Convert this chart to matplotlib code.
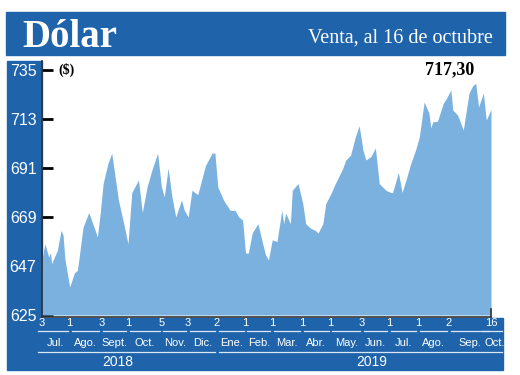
import matplotlib
matplotlib.use("Agg")
import matplotlib.pyplot as plt
import matplotlib.dates as mdates
import matplotlib.transforms as mtransforms
from matplotlib import font_manager
from matplotlib.patches import Rectangle
from matplotlib.lines import Line2D
import pandas as pd

# dollar sale price
dates = ["2018-07-03", "2018-07-06", "2018-07-10", "2018-07-12", "2018-07-13", "2018-07-19",
         "2018-07-23", "2018-07-25", "2018-07-27", "2018-08-01", "2018-08-06", "2018-08-09",
         "2018-08-10", "2018-08-15", "2018-08-21", "2018-08-26", "2018-08-30", "2018-09-02",
         "2018-09-05", "2018-09-10", "2018-09-14", "2018-09-18", "2018-09-21", "2018-09-25",
         "2018-10-01", "2018-10-05", "2018-10-12", "2018-10-16", "2018-10-21", "2018-10-26",
         "2018-11-01", "2018-11-05", "2018-11-08", "2018-11-12", "2018-11-16", "2018-11-20",
         "2018-11-26", "2018-11-29", "2018-12-03", "2018-12-07", "2018-12-13", "2018-12-18",
         "2018-12-21", "2018-12-28", "2018-12-31", "2019-01-03", "2019-01-09", "2019-01-16",
         "2019-01-21", "2019-01-25", "2019-01-29", "2019-02-01", "2019-02-04", "2019-02-08",
         "2019-02-14", "2019-02-19", "2019-02-22", "2019-02-25", "2019-03-01", "2019-03-06",
         "2019-03-11", "2019-03-13", "2019-03-15", "2019-03-20", "2019-03-22", "2019-03-28",
         "2019-04-02", "2019-04-05", "2019-04-10", "2019-04-15", "2019-04-18", "2019-04-23",
         "2019-04-26", "2019-05-02", "2019-05-06", "2019-05-13", "2019-05-17", "2019-05-22",
         "2019-05-27", "2019-05-31", "2019-06-04", "2019-06-07", "2019-06-12", "2019-06-17",
         "2019-06-21", "2019-06-28", "2019-07-03", "2019-07-05", "2019-07-11", "2019-07-15",
         "2019-07-19", "2019-07-24", "2019-07-29", "2019-08-02", "2019-08-07", "2019-08-12",
         "2019-08-14", "2019-08-16", "2019-08-21", "2019-08-27", "2019-08-30", "2019-09-04",
         "2019-09-06", "2019-09-11", "2019-09-17", "2019-09-23", "2019-09-27", "2019-09-30",
         "2019-10-03", "2019-10-08", "2019-10-11", "2019-10-16"]
values = [650, 657, 651, 653, 648, 654,
          663, 661, 650, 637.6, 644, 645,
          648, 664.5, 671, 665, 660, 671,
          684, 693, 697.7, 685.6, 676.6, 669,
          657, 680, 685.6, 671, 682.5, 690,
          697.7, 682.5, 678, 691, 678, 669,
          676.6, 672, 669, 681, 679, 687,
          692, 697.7, 697.7, 682.5, 676.6, 672,
          672, 669, 667.6, 652.8, 652.8, 661.8,
          666, 657, 652, 649.7, 658.7, 658,
          672, 666, 670.8, 666, 681, 684,
          675, 666, 664, 663, 661.8, 666,
          675, 680, 684, 690, 694.6, 696.8,
          705, 710, 699, 694.6, 696, 700,
          684, 681, 680, 680, 689, 680,
          685.6, 693, 699, 705, 720.6, 715.7,
          709, 711.7, 712, 720, 722, 726,
          717, 714.8, 708, 724.7, 728, 729,
          718.4, 724.7, 712.5, 717.3]

tick_dates = ["2018-07-03", "2018-08-01", "2018-09-03", "2018-10-01", "2018-11-05", "2018-12-03",
              "2019-01-02", "2019-02-01", "2019-03-01", "2019-04-01", "2019-05-01", "2019-06-03",
              "2019-07-01", "2019-08-01", "2019-09-02", "2019-10-16"]
tick_labels = ["3", "1", "3", "1", "5", "3", "2", "1", "1", "1", "1", "3", "1", "1", "2", "16"]
months = ["Jul.", "Ago.", "Sept.", "Oct.", "Nov.", "Dic.", "Ene.", "Feb.", "Mar.", "Abr.",
          "May.", "Jun.", "Jul.", "Ago.", "Sep.", "Oct."]
years = ["2018", "2019"]
y_ticks = [625, 647, 669, 691, 713, 735]

W, H = 520, 375
BLUE = "#1f64ab"
AREA = "#7ab1de"
serif = ["Liberation Serif", "DejaVu Serif"]


def has_font(name):
    try:
        font_manager.findfont(name, fallback_to_default=False)
        return True
    except ValueError:
        return False


narrow = "Liberation Sans Narrow" if has_font("Liberation Sans Narrow") else "Liberation Sans"
small = 9 if narrow == "Liberation Sans Narrow" else 8


def fx(x):
    return x / W


def fy(y):
    return 1 - y / H


fig = plt.figure(figsize=(W / 100, H / 100), dpi=100)
fig.patch.set_facecolor("white")

# blue bands (behind the axes)
fig.patches.append(Rectangle((fx(6), fy(55)), fx(505) - fx(6), fy(12) - fy(55),
                             transform=fig.transFigure, color=BLUE, zorder=-1))
fig.patches.append(Rectangle((fx(7), fy(318)), fx(42) - fx(7), fy(61) - fy(318),
                             transform=fig.transFigure, color=BLUE, zorder=-1))
fig.patches.append(Rectangle((fx(7), fy(370)), fx(503) - fx(7), fy(318) - fy(370),
                             transform=fig.transFigure, color=BLUE, zorder=-1))

fig.text(fx(22), fy(47), "Dólar", family=serif, weight="bold", size=28,
         color="white", va="baseline", ha="left")
fig.text(fx(493), fy(43), "Venta, al 16 de octubre", family=serif, size=14.5,
         color="white", va="baseline", ha="right")

ax = fig.add_axes([fx(42), fy(315), fx(491) - fx(42), fy(70) - fy(315)])
ax.set_facecolor("none")
ax.set_axisbelow(True)

x = pd.to_datetime(dates)
ax.fill_between(x, values, 625, color=AREA, linewidth=0, zorder=1)
ax.set_xlim(pd.Timestamp(tick_dates[0]), pd.Timestamp(tick_dates[-1]))
ax.set_ylim(625, 735)
for s in ax.spines.values():
    s.set_visible(False)
ax.set_yticks(y_ticks)
ax.set_yticklabels([str(v) for v in y_ticks], family=narrow, fontsize=11.5, color="white")
ax.tick_params(axis="y", direction="in", length=8, width=2, color="black", pad=4)
ax.set_xticks([])

# axis lines
fig.add_artist(Line2D([fx(42), fx(42)], [fy(61), fy(317)], color="#333333", lw=1.2))
fig.add_artist(Line2D([fx(42), fx(491)], [fy(316.5), fy(316.5)], color="#333333", lw=1.2))
fig.add_artist(Line2D([fx(491), fx(491)], [fy(309), fy(317)], color="#333333", lw=1.2))

fig.text(fx(58), fy(70), "($)", family=serif, weight="bold", size=10, va="center", ha="left")
fig.text(fx(450), fy(70), "717,30", family=serif, weight="bold", size=13,
         va="center", ha="center")

# bottom date scale
trans = mtransforms.blended_transform_factory(ax.transData, fig.transFigure)
tnum = [mdates.date2num(pd.Timestamp(d)) for d in tick_dates]
for t, lab in zip(tnum, tick_labels):
    fig.text(t, fy(323), lab, transform=trans, family=narrow, size=small, color="white",
             ha="center", va="center")
mid = [(a + b) / 2 for a, b in zip(tnum[:-1], tnum[1:])] + [tnum[-1] + 4]
for m, lab in zip(mid, months):
    fig.text(m, fy(343), lab, transform=trans, family=narrow, size=small, color="white",
             ha="center", va="center")
seg = [(a + 2, b - 2) for a, b in zip(tnum[:-1], tnum[1:])] + [(tnum[-1] - 9, tnum[-1] + 11)]
seg[0] = (tnum[0] - 4, seg[0][1])
for a, b in seg:
    fig.add_artist(Line2D([a, b], [fy(331), fy(331)], transform=trans, color="#d8e6f5", lw=0.9))
ylines = [(tnum[0] - 4, mdates.date2num(pd.Timestamp("2018-12-31"))),
          (tnum[6] + 2, tnum[-1] + 11)]
for a, b in ylines:
    fig.add_artist(Line2D([a, b], [fy(352), fy(352)], transform=trans, color="#d8e6f5", lw=0.9))
ycent = [mdates.date2num(pd.Timestamp("2018-09-20")), mdates.date2num(pd.Timestamp("2019-06-13"))]
for c, lab in zip(ycent, years):
    fig.text(c, fy(362), lab, transform=trans, family=narrow, size=10, color="white",
             ha="center", va="center")

fig.savefig("out.png", dpi=100)
